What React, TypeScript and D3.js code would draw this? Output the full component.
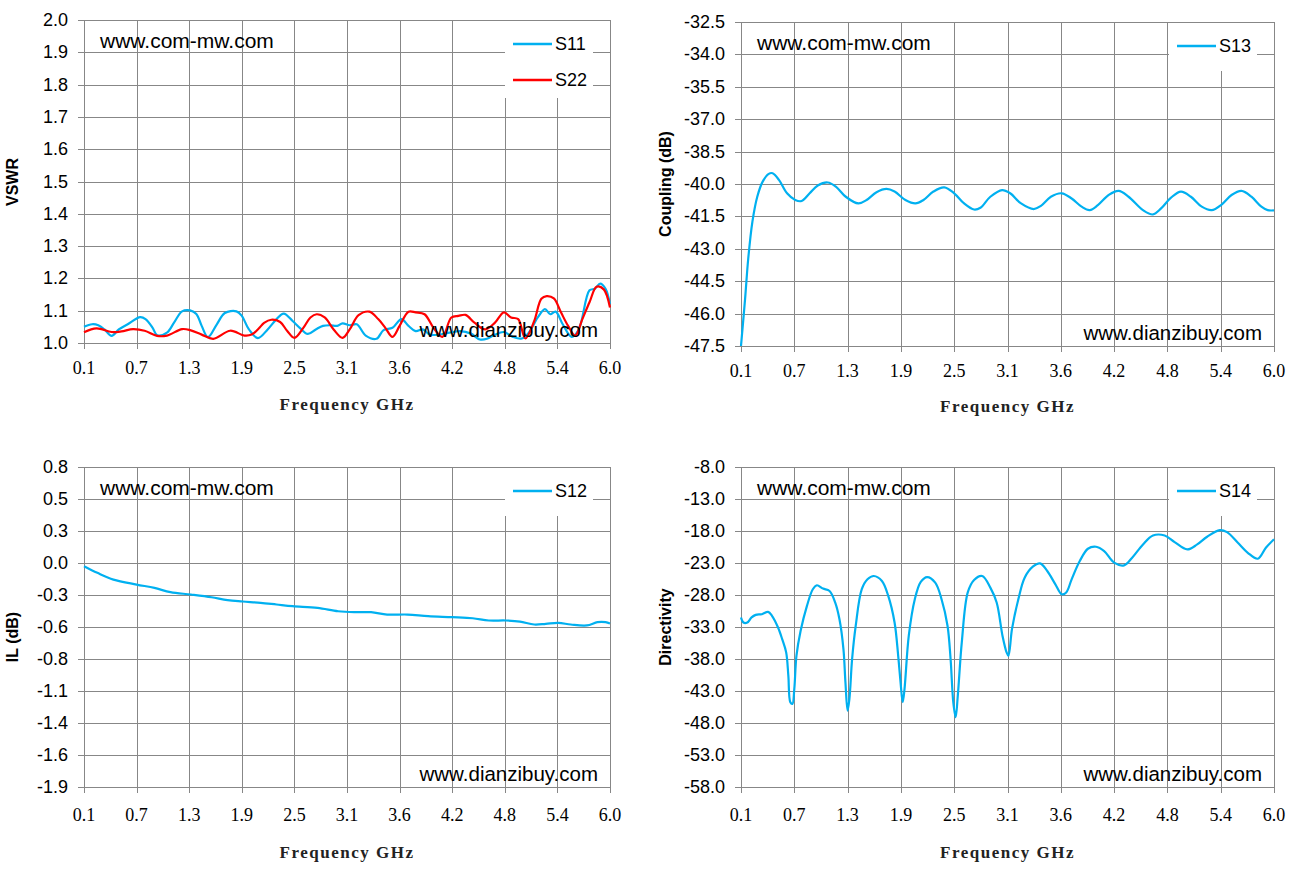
import React from "react";
import * as d3 from "d3";

// ---------- tick labels ----------
const xTickLabels = ["0.1", "0.7", "1.3", "1.9", "2.5", "3.1", "3.6", "4.2", "4.8", "5.4", "6.0"];
const vswrTickLabels = ["1.0", "1.1", "1.2", "1.3", "1.4", "1.5", "1.6", "1.7", "1.8", "1.9", "2.0"];
const couplingTickLabels = ["-47.5", "-46.0", "-44.5", "-43.0", "-41.5", "-40.0", "-38.5", "-37.0", "-35.5", "-34.0", "-32.5"];
const ilTickLabels = ["-1.9", "-1.6", "-1.4", "-1.1", "-0.8", "-0.6", "-0.3", "0.0", "0.3", "0.5", "0.8"];
const dirTickLabels = ["-58.0", "-53.0", "-48.0", "-43.0", "-38.0", "-33.0", "-28.0", "-23.0", "-18.0", "-13.0", "-8.0"];

// ---------- series ----------
const s11Freq = [0.1, 0.19, 0.26, 0.33, 0.41, 0.49, 0.59, 0.73, 0.79, 0.87, 0.92, 1.03, 1.11, 1.2, 1.29, 1.36, 1.42, 1.49, 1.59, 1.68, 1.81, 1.87, 1.95, 2.05, 2.16, 2.26, 2.34, 2.44, 2.52, 2.61, 2.7, 2.78, 2.86, 2.94, 3.0, 3.08, 3.16, 3.26, 3.38, 3.46, 3.56, 3.66, 3.74, 3.82, 3.9, 3.98, 4.08, 4.2, 4.32, 4.44, 4.54, 4.62, 4.71, 4.81, 4.91, 5.01, 5.09, 5.19, 5.27, 5.33, 5.39, 5.47, 5.57, 5.65, 5.77, 5.83, 5.89, 5.95, 6.0];
const s11Vswr = [1.05, 1.058, 1.055, 1.042, 1.022, 1.042, 1.058, 1.08, 1.074, 1.047, 1.024, 1.032, 1.063, 1.098, 1.101, 1.09, 1.053, 1.018, 1.058, 1.093, 1.098, 1.084, 1.042, 1.015, 1.042, 1.074, 1.091, 1.068, 1.047, 1.028, 1.042, 1.053, 1.055, 1.053, 1.061, 1.055, 1.058, 1.023, 1.013, 1.04, 1.047, 1.074, 1.053, 1.037, 1.042, 1.026, 1.026, 1.032, 1.037, 1.029, 1.011, 1.013, 1.026, 1.034, 1.019, 1.014, 1.032, 1.079, 1.105, 1.089, 1.097, 1.058, 1.019, 1.042, 1.163, 1.168, 1.184, 1.168, 1.12];

const s22Freq = [0.1, 0.24, 0.41, 0.52, 0.65, 0.78, 0.92, 1.03, 1.2, 1.29, 1.42, 1.55, 1.74, 1.9, 1.98, 2.06, 2.12, 2.2, 2.3, 2.38, 2.46, 2.56, 2.64, 2.71, 2.8, 2.9, 3.0, 3.08, 3.18, 3.3, 3.4, 3.48, 3.56, 3.64, 3.74, 3.82, 3.92, 4.02, 4.12, 4.22, 4.3, 4.38, 4.48, 4.6, 4.71, 4.81, 4.89, 4.97, 5.05, 5.15, 5.23, 5.29, 5.37, 5.45, 5.53, 5.61, 5.69, 5.77, 5.85, 5.93, 6.0];
const s22Vswr = [1.033, 1.045, 1.034, 1.036, 1.043, 1.038, 1.022, 1.023, 1.043, 1.04, 1.026, 1.013, 1.038, 1.023, 1.026, 1.045, 1.062, 1.072, 1.065, 1.037, 1.016, 1.047, 1.079, 1.089, 1.079, 1.042, 1.016, 1.042, 1.086, 1.097, 1.074, 1.047, 1.019, 1.053, 1.097, 1.095, 1.089, 1.047, 1.019, 1.079, 1.084, 1.087, 1.063, 1.042, 1.063, 1.095, 1.079, 1.074, 1.014, 1.068, 1.137, 1.145, 1.138, 1.095, 1.053, 1.023, 1.074, 1.126, 1.174, 1.166, 1.11];

const s13Freq = [0.1, 0.145, 0.18, 0.226, 0.28, 0.34, 0.407, 0.45, 0.52, 0.61, 0.7, 0.77, 0.86, 0.95, 1.06, 1.15, 1.26, 1.4, 1.49, 1.6, 1.71, 1.8, 1.92, 2.03, 2.12, 2.23, 2.35, 2.46, 2.57, 2.68, 2.75, 2.86, 2.99, 3.08, 3.2, 3.34, 3.42, 3.53, 3.65, 3.76, 3.87, 3.96, 4.05, 4.17, 4.28, 4.39, 4.55, 4.66, 4.75, 4.86, 4.97, 5.08, 5.2, 5.31, 5.42, 5.53, 5.64, 5.75, 5.86, 5.93, 6.0];
const s13Coupling = [-47.5, -45.33, -43.46, -41.75, -40.59, -39.89, -39.53, -39.5, -39.81, -40.43, -40.74, -40.79, -40.43, -40.07, -39.93, -40.12, -40.59, -40.9, -40.74, -40.38, -40.23, -40.35, -40.74, -40.9, -40.74, -40.35, -40.16, -40.43, -40.9, -41.18, -41.1, -40.59, -40.28, -40.43, -40.9, -41.16, -41.01, -40.59, -40.43, -40.67, -41.05, -41.21, -40.98, -40.51, -40.32, -40.59, -41.21, -41.41, -41.13, -40.63, -40.35, -40.59, -41.05, -41.21, -40.95, -40.51, -40.32, -40.59, -41.05, -41.21, -41.22];

const s12Freq = [0.1, 0.25, 0.43, 0.69, 0.89, 1.07, 1.3, 1.53, 1.71, 1.88, 2.08, 2.26, 2.44, 2.72, 2.95, 3.13, 3.32, 3.5, 3.73, 3.96, 4.23, 4.46, 4.64, 4.83, 4.99, 5.15, 5.28, 5.42, 5.56, 5.74, 5.86, 5.95, 6.0];
const s12Il = [-0.037, -0.093, -0.15, -0.192, -0.22, -0.256, -0.276, -0.299, -0.324, -0.335, -0.346, -0.36, -0.374, -0.389, -0.417, -0.425, -0.425, -0.445, -0.445, -0.459, -0.467, -0.476, -0.495, -0.495, -0.504, -0.529, -0.523, -0.515, -0.529, -0.537, -0.509, -0.509, -0.52];

const s14Freq = [0.1, 0.127, 0.17, 0.217, 0.263, 0.33, 0.4, 0.443, 0.51, 0.556, 0.6, 0.624, 0.646, 0.669, 0.69, 0.714, 0.76, 0.83, 0.895, 0.94, 1.008, 1.08, 1.143, 1.19, 1.234, 1.256, 1.28, 1.3, 1.33, 1.37, 1.437, 1.5, 1.57, 1.66, 1.73, 1.8, 1.84, 1.866, 1.89, 1.91, 1.957, 2.024, 2.09, 2.16, 2.25, 2.32, 2.386, 2.42, 2.45, 2.476, 2.5, 2.544, 2.61, 2.68, 2.77, 2.86, 2.93, 2.995, 3.04, 3.06, 3.1, 3.17, 3.24, 3.33, 3.41, 3.49, 3.58, 3.65, 3.7, 3.76, 3.85, 3.94, 4.03, 4.12, 4.23, 4.34, 4.43, 4.55, 4.66, 4.79, 4.9, 5.04, 5.15, 5.26, 5.4, 5.48, 5.6, 5.71, 5.82, 5.91, 6.0];
const s14Dir = [-31.52, -32.3, -32.3, -31.5, -31.1, -31.0, -30.64, -31.26, -33.08, -34.9, -36.97, -40.6, -44.76, -45.02, -42.68, -37.49, -33.6, -29.7, -27.1, -26.48, -27.0, -27.37, -29.18, -31.78, -36.45, -41.64, -46.06, -44.24, -38.0, -32.8, -27.1, -25.55, -25.03, -25.8, -28.15, -32.3, -37.5, -41.6, -44.76, -42.7, -34.4, -28.66, -25.96, -25.2, -26.07, -28.66, -32.8, -38.0, -44.76, -47.1, -43.7, -35.4, -27.6, -25.65, -25.03, -26.85, -29.18, -34.4, -36.97, -37.5, -33.3, -28.66, -25.3, -23.58, -23.06, -24.25, -26.33, -27.89, -27.6, -25.55, -22.7, -20.77, -20.46, -21.14, -22.95, -23.37, -22.17, -20.1, -18.7, -18.7, -19.73, -20.88, -20.1, -18.9, -17.86, -18.18, -19.84, -21.4, -22.33, -20.62, -19.3];

const BLUE = "#00B0F0";
const RED = "#FF0000";
const GRID = "#878787";
const SANS = "'Liberation Sans', Arial, sans-serif";
const SERIF = "'Liberation Serif', 'Times New Roman', serif";

type Series = { name: string; freq: number[]; vals: number[]; color: string };

type PanelProps = {
  left: number; right: number; top: number; bottom: number;
  yMin: number; yMax: number; yTickLabels: string[];
  yTitle: string; yTitleX: number; yTitleY: number;
  tickDy: number; titleDy: number;
  series: Series[];
};

function Panel(p: PanelProps) {
  const x = d3.scaleLinear().domain([0.1, 6.0]).range([p.left, p.right]);
  const y = d3.scaleLinear().domain([p.yMin, p.yMax]).range([p.bottom, p.top]);
  const n = xTickLabels.length - 1;
  const xTicks = xTickLabels.map((_, i) => 0.1 + (i * 5.9) / n);
  const yTicks = p.yTickLabels.map((_, i) => p.yMin + (i * (p.yMax - p.yMin)) / (p.yTickLabels.length - 1));
  const r = (v: number) => Math.round(v) + 0.5;
  const legendW = 88;
  const legendX = p.right - 105;
  const legendH = p.series.length === 1 ? 48 : 77;

  return (
    <g>
      {yTicks.map((t, i) => (
        <line key={"h" + i} x1={p.left - 6} x2={p.right} y1={r(y(t))} y2={r(y(t))} stroke={GRID} strokeWidth={1} />
      ))}
      {xTicks.map((t, i) => (
        <line key={"v" + i} x1={r(x(t))} x2={r(x(t))} y1={p.top} y2={p.bottom + 6} stroke={GRID} strokeWidth={1} />
      ))}
      {p.yTickLabels.map((lab, i) => (
        <text key={"yl" + i} x={p.left - 16} y={y(yTicks[i])} textAnchor="end" dominantBaseline="central"
          fontFamily={SANS} fontSize={18} fill="#000">{lab}</text>
      ))}
      {xTickLabels.map((lab, i) => (
        <text key={"xl" + i} x={x(xTicks[i])} y={p.bottom + p.tickDy} textAnchor="middle" dominantBaseline="central"
          fontFamily={SERIF} fontSize={18} fill="#000">{lab}</text>
      ))}
      <text x={(p.left + p.right) / 2} y={p.bottom + p.titleDy} textAnchor="middle" dominantBaseline="central"
        fontFamily={SERIF} fontWeight="bold" fontSize={17} letterSpacing={1.5} fill="#222">Frequency GHz</text>
      <text transform={`translate(${p.yTitleX},${p.yTitleY}) rotate(-90)`} textAnchor="middle" dominantBaseline="central"
        fontFamily={SANS} fontWeight="bold" fontSize={16} fill="#000">{p.yTitle}</text>
      {p.series.map((s) => {
        const pts: [number, number][] = s.freq.map((f, i) => [x(f), y(s.vals[i])]);
        const line = d3.line().curve(d3.curveCatmullRom.alpha(0.5));
        return <path key={s.name} d={line(pts) || ""} fill="none" stroke={s.color} strokeWidth={2.2} strokeLinejoin="round" />;
      })}
      <rect x={legendX} y={p.top + 1} width={legendW} height={legendH} fill="#fff" />
      {p.series.map((s, i) => {
        const ly = p.top + 24 + i * 36;
        return (
          <g key={"lg" + s.name}>
            <line x1={p.right - 97} x2={p.right - 58} y1={ly} y2={ly} stroke={s.color} strokeWidth={2.5} />
            <text x={p.right - 55} y={ly} dominantBaseline="central" fontFamily={SANS} fontSize={18} fill="#000">{s.name}</text>
          </g>
        );
      })}
      <text x={p.left + 16} y={p.top + 20} dominantBaseline="central" fontFamily={SANS} fontSize={21} fill="#000">www.com-mw.com</text>
      <text x={p.right - 12} y={p.bottom - 14} textAnchor="end" dominantBaseline="central" fontFamily={SANS} fontSize={20.5} fill="#000">www.dianzibuy.com</text>
    </g>
  );
}

export default function App() {
  return (
    <div style={{ position: "absolute", left: 0, top: 0 }}>
      <svg width={1305} height={873} style={{ display: "block", background: "#fff" }}>
        <rect x={0} y={0} width={1305} height={873} fill="#fff" />
        <Panel left={84} right={610} top={20} bottom={343} yMin={1.0} yMax={2.0} yTickLabels={vswrTickLabels}
          yTitle="VSWR" yTitleX={12} yTitleY={182} tickDy={25} titleDy={61}
          series={[{ name: "S11", freq: s11Freq, vals: s11Vswr, color: BLUE }, { name: "S22", freq: s22Freq, vals: s22Vswr, color: RED }]} />
        <Panel left={741} right={1274} top={22} bottom={346} yMin={-47.5} yMax={-32.5} yTickLabels={couplingTickLabels}
          yTitle="Coupling (dB)" yTitleX={665} yTitleY={184} tickDy={25} titleDy={60}
          series={[{ name: "S13", freq: s13Freq, vals: s13Coupling, color: BLUE }]} />
        <Panel left={84} right={610} top={467} bottom={787} yMin={-1.9} yMax={0.8} yTickLabels={ilTickLabels}
          yTitle="IL (dB)" yTitleX={12} yTitleY={637} tickDy={28} titleDy={65}
          series={[{ name: "S12", freq: s12Freq, vals: s12Il, color: BLUE }]} />
        <Panel left={741} right={1274} top={467} bottom={787} yMin={-58} yMax={-8} yTickLabels={dirTickLabels}
          yTitle="Directivity" yTitleX={665} yTitleY={627} tickDy={28} titleDy={65}
          series={[{ name: "S14", freq: s14Freq, vals: s14Dir, color: BLUE }]} />
      </svg>
    </div>
  );
}
